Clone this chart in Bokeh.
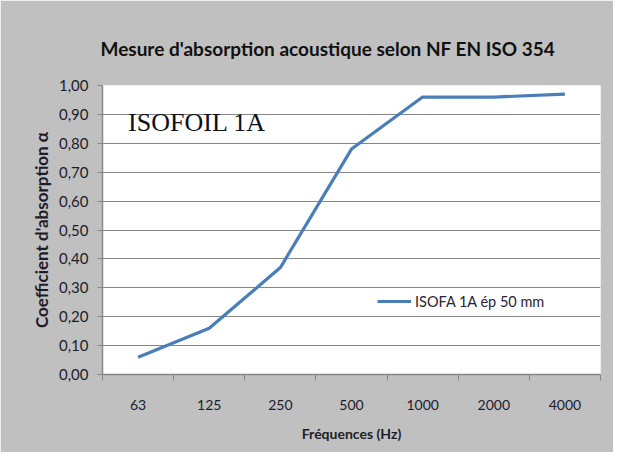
from bokeh.plotting import figure
from bokeh.models import (Range1d, FixedTicker, CustomJSTickFormatter, Label,
                          Legend, LegendItem, ColumnDataSource)
from bokeh.embed import file_html
from bokeh.resources import INLINE

# ---- data ----
frequencies = ["63", "125", "250", "500", "1000", "2000", "4000"]
alpha = [0.06, 0.16, 0.37, 0.78, 0.96, 0.96, 0.97]
series_name = "ISOFA 1A ép 50 mm"
y_ticks = [0.0, 0.1, 0.2, 0.3, 0.4, 0.5, 0.6, 0.7, 0.8, 0.9, 1.0]

FONT = "Lato"
BG = "#c0c0c0"
GRID = "#868686"
TXT = "#1c1c2a"

pos = [i + 0.5 for i in range(len(frequencies))]
bounds = [float(i) for i in range(len(frequencies) + 1)]

p = figure(width=613, height=452, output_backend="svg", toolbar_location=None,
           x_range=Range1d(0, len(frequencies)), y_range=Range1d(0, 1),
           min_border_left=102, min_border_right=13, min_border_bottom=78,
           min_border_top=85)

p.border_fill_color = BG
p.background_fill_color = "white"
p.outline_line_color = None

# title
p.title.text = "Mesure d'absorption acoustique  selon NF EN ISO 354"
p.title.text_font = FONT
p.title.text_font_size = "19px"
p.title.text_font_style = "bold"
p.title.text_color = "#111111"
p.title.align = "left"
p.title.offset = -2
p.title.standoff = 51

src = ColumnDataSource(dict(x=pos, y=alpha))
r = p.line("x", "y", source=src, line_color="#4a7ebb", line_width=3.2)

# x axis
xa = p.xaxis[0]
xa.ticker = FixedTicker(ticks=pos, minor_ticks=bounds)
xa.major_label_overrides = {pv: f for pv, f in zip(pos, frequencies)}
xa.major_tick_line_color = None
xa.major_tick_out = 0
xa.major_tick_in = 0
xa.minor_tick_line_color = GRID
xa.minor_tick_out = 6
xa.minor_tick_in = 0
xa.axis_line_color = GRID
xa.axis_line_width = 1.5
xa.major_label_text_font = FONT
xa.major_label_text_font_size = "14px"
xa.major_label_text_color = TXT
xa.major_label_standoff = 19
xa.axis_label = "Fréquences (Hz)"
xa.axis_label_text_font = FONT
xa.axis_label_text_font_size = "14px"
xa.axis_label_text_font_style = "bold"
xa.axis_label_text_color = TXT
xa.axis_label_standoff = 12

# y axis
ya = p.yaxis[0]
ya.ticker = FixedTicker(ticks=y_ticks)
ya.formatter = CustomJSTickFormatter(code="return tick.toFixed(2).replace('.', ',');")
ya.major_tick_line_color = GRID
ya.major_tick_out = 5
ya.major_tick_in = 0
ya.minor_tick_line_color = None
ya.axis_line_color = GRID
ya.axis_line_width = 1.5
ya.major_label_text_font = FONT
ya.major_label_text_font_size = "15px"
ya.major_label_text_color = TXT
ya.major_label_standoff = 9
ya.axis_label = "Coefficient d'absorption α"
ya.axis_label_text_font = FONT
ya.axis_label_text_font_size = "17px"
ya.axis_label_text_font_style = "bold"
ya.axis_label_text_color = TXT
ya.axis_label_standoff = 4

p.xgrid.grid_line_color = None
p.ygrid.grid_line_color = GRID
p.ygrid.grid_line_width = 1.2

# product name label
p.add_layout(Label(x=0.36, y=0.872, text="ISOFOIL 1A", text_font="Liberation Serif",
                   text_font_size="26px", text_color="#10101c",
                   text_baseline="alphabetic"))

legend = Legend(items=[LegendItem(label=series_name, renderers=[r])],
                location=(275, 64), border_line_color=None,
                background_fill_color="white", background_fill_alpha=1,
                label_text_font=FONT, label_text_font_size="14.5px",
                label_text_color="#262636", glyph_width=34, glyph_height=18,
                label_standoff=4, padding=4, margin=0, spacing=0)
p.add_layout(legend)

open("out.html", "w").write(file_html(p, INLINE))
